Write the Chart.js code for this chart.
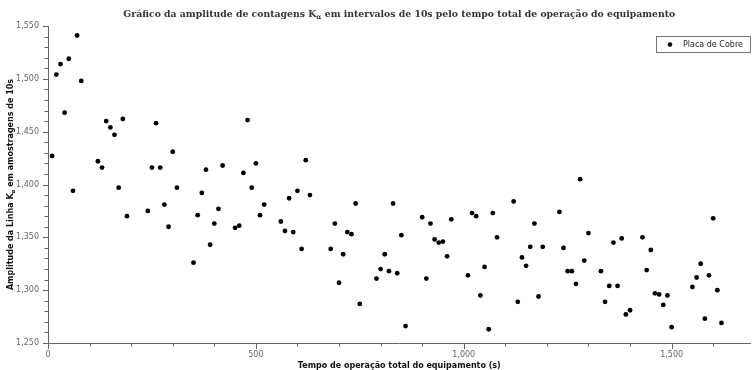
<!DOCTYPE html>
<html>
<head>
<meta charset="utf-8">
<script src="https://cdn.jsdelivr.net/npm/chart.js@4/dist/chart.umd.min.js"></script>
<style>
  html, body { margin: 0; padding: 0; background: #ffffff; }
  #wrap { width: 753px; height: 370px; }
</style>
</head>
<body>
<div id="wrap"><canvas id="c" width="753" height="370"></canvas></div>
<script>
// ---- data ----
const seriesLabel = "Placa de Cobre";
const timeValues = [
  10, 20, 30, 40, 50, 60, 70, 80,
  120, 130, 140, 150, 160, 170, 180, 190,
  240, 250, 260, 270, 280, 290, 300, 310,
  350, 360, 370, 380, 390, 400, 410, 420,
  450, 460, 470, 480, 490, 500, 510, 520,
  560, 570, 580, 590, 600, 610, 620, 630,
  680, 690, 700, 710, 720, 730, 740, 750,
  790, 800, 810, 820, 830, 840, 850, 860,
  900, 910, 920, 930, 940, 950, 960, 970,
  1010, 1020, 1030, 1040, 1050, 1060, 1070, 1080,
  1120, 1130, 1140, 1150, 1160, 1170, 1180, 1190,
  1230, 1240, 1250, 1260, 1270, 1280, 1290, 1300,
  1330, 1340, 1350, 1360, 1370, 1380, 1390, 1400,
  1430, 1440, 1450, 1460, 1470, 1480, 1490, 1500,
  1550, 1560, 1570, 1580, 1590, 1600, 1610, 1620
];
const amplitudeValues = [
  1427, 1504, 1514, 1468, 1519, 1394, 1541, 1498,
  1422, 1416, 1460, 1454, 1447, 1397, 1462, 1370,
  1375, 1416, 1458, 1416, 1381, 1360, 1431, 1397,
  1326, 1371, 1392, 1414, 1343, 1363, 1377, 1418,
  1359, 1361, 1411, 1461, 1397, 1420, 1371, 1381,
  1365, 1356, 1387, 1355, 1394, 1339, 1423, 1390,
  1339, 1363, 1307, 1334, 1355, 1353, 1382, 1287,
  1311, 1320, 1334, 1318, 1382, 1316, 1352, 1266,
  1369, 1311, 1363, 1348, 1345, 1346, 1332, 1367,
  1314, 1373, 1370, 1295, 1322, 1263, 1373, 1350,
  1384, 1289, 1331, 1323, 1341, 1363, 1294, 1341,
  1374, 1340, 1318, 1318, 1306, 1405, 1328, 1354,
  1318, 1289, 1304, 1345, 1304, 1349, 1277, 1281,
  1350, 1319, 1338, 1297, 1296, 1286, 1295, 1265,
  1303, 1312, 1325, 1273, 1314, 1368, 1300, 1269
];
const xMin = 0, xMax = 1690, xMinorStep = 100, xMajorStep = 500;
const yMin = 1250, yMax = 1550, yMinorStep = 10, yMajorStep = 50;
const titleParts = [
  { text: "Gráfico da amplitude de contagens K" },
  { text: "α", sub: true },
  { text: " em intervalos de 10s pelo tempo total de operação do equipamento" }
];
const yTitleParts = [
  { text: "Amplitude da Linha K" },
  { text: "α", sub: true },
  { text: " em amostragens de 10s" }
];
const xTitleText = "Tempo de operação total do equipamento (s)";

// ---- helpers ----
const points = timeValues.map((t, i) => ({ x: t, y: amplitudeValues[i] }));
const fmt = new Intl.NumberFormat('en-US');

function drawRich(ctx, parts, cx, baseY, font, subFont, subDrop) {
  let total = 0;
  const widths = parts.map(p => {
    ctx.font = p.sub ? subFont : font;
    const w = ctx.measureText(p.text).width;
    total += w;
    return w;
  });
  let x = cx - total / 2;
  ctx.textAlign = 'left';
  ctx.textBaseline = 'alphabetic';
  parts.forEach((p, i) => {
    ctx.font = p.sub ? subFont : font;
    ctx.fillText(p.text, x, baseY + (p.sub ? subDrop : 0));
    x += widths[i];
  });
}

const decorPlugin = {
  id: 'decor',
  afterDraw(chart) {
    const ctx = chart.ctx;
    const area = chart.chartArea;
    const xs = chart.scales.x, ys = chart.scales.y;
    ctx.save();
    // tick marks
    ctx.strokeStyle = '#666666';
    ctx.lineWidth = 1;
    ctx.beginPath();
    xs.ticks.forEach(t => {
      const px = Math.round(xs.getPixelForValue(t.value)) + 0.5;
      const len = (t.value % xMajorStep === 0) ? 6 : 3.5;
      ctx.moveTo(px, area.bottom);
      ctx.lineTo(px, area.bottom + len);
    });
    ys.ticks.forEach(t => {
      const py = Math.round(ys.getPixelForValue(t.value)) + 0.5;
      const len = (t.value % yMajorStep === 0) ? 5 : 3.5;
      ctx.moveTo(area.left, py);
      ctx.lineTo(area.left - len, py);
    });
    ctx.stroke();

    const cx = (area.left + area.right) / 2;
    // title
    ctx.fillStyle = '#333333';
    drawRich(ctx, titleParts, cx, 17, "bold 9.3px 'DejaVu Serif'", "bold 6.8px 'DejaVu Serif'", 2);

    // x axis title
    ctx.fillStyle = '#111111';
    ctx.font = "bold 8px 'DejaVu Sans'";
    ctx.textAlign = 'center';
    ctx.textBaseline = 'alphabetic';
    ctx.fillText(xTitleText, cx, 368);

    // y axis title
    const cy = (area.top + area.bottom) / 2;
    ctx.save();
    ctx.translate(13, cy);
    ctx.rotate(-Math.PI / 2);
    drawRich(ctx, yTitleParts, 0, 0, "bold 8px 'DejaVu Sans'", "bold 5.5px 'DejaVu Sans'", 2);
    ctx.restore();

    // legend
    const bx = 656.5, by = 36.5, bw = 94, bh = 16;
    ctx.fillStyle = '#ffffff';
    ctx.fillRect(bx, by, bw, bh);
    ctx.strokeStyle = '#777777';
    ctx.strokeRect(bx, by, bw, bh);
    ctx.fillStyle = '#000000';
    ctx.beginPath();
    ctx.arc(670, by + bh / 2, 2.3, 0, Math.PI * 2);
    ctx.fill();
    ctx.fillStyle = '#222222';
    ctx.font = "8px 'DejaVu Sans'";
    ctx.textAlign = 'left';
    ctx.textBaseline = 'middle';
    ctx.fillText(chart.data.datasets[0].label, 683, by + bh / 2 + 0.5);
    ctx.restore();
  }
};

new Chart(document.getElementById('c'), {
  type: 'scatter',
  data: {
    datasets: [{
      label: seriesLabel,
      data: points,
      backgroundColor: '#000000',
      borderColor: '#000000',
      pointRadius: 2.4,
      pointHoverRadius: 2.4,
      borderWidth: 0
    }]
  },
  options: {
    responsive: false,
    animation: false,
    devicePixelRatio: 1,
    layout: { padding: { top: 26, right: 1, left: 0, bottom: 0 } },
    plugins: {
      legend: { display: false },
      title: { display: false },
      tooltip: { enabled: false }
    },
    scales: {
      x: {
        type: 'linear',
        min: xMin,
        max: xMax,
        afterBuildTicks(scale) {
          const arr = [];
          for (let v = xMin; v <= xMax; v += xMinorStep) arr.push({ value: v });
          scale.ticks = arr;
        },
        afterFit(scale) { scale.height = 27; },
        grid: { display: false, drawTicks: false, tickLength: 0 },
        border: { display: true, color: '#666666', width: 1 },
        ticks: {
          autoSkip: false,
          maxRotation: 0,
          padding: 7,
          color: '#666666',
          font: { family: 'DejaVu Sans', size: 8 },
          callback: (v) => (v % xMajorStep === 0 ? fmt.format(v) : '')
        },
        title: { display: false }
      },
      y: {
        type: 'linear',
        min: yMin,
        max: yMax,
        afterBuildTicks(scale) {
          const arr = [];
          for (let v = yMin; v <= yMax; v += yMinorStep) arr.push({ value: v });
          scale.ticks = arr;
        },
        afterFit(scale) { scale.width = 48; },
        grid: { display: false, drawTicks: false, tickLength: 0 },
        border: { display: true, color: '#666666', width: 1 },
        ticks: {
          autoSkip: false,
          padding: 9,
          color: '#666666',
          font: { family: 'DejaVu Sans', size: 8 },
          callback: (v) => (v % yMajorStep === 0 ? fmt.format(v) : '')
        },
        title: { display: false }
      }
    }
  },
  plugins: [decorPlugin]
});
</script>
</body>
</html>
